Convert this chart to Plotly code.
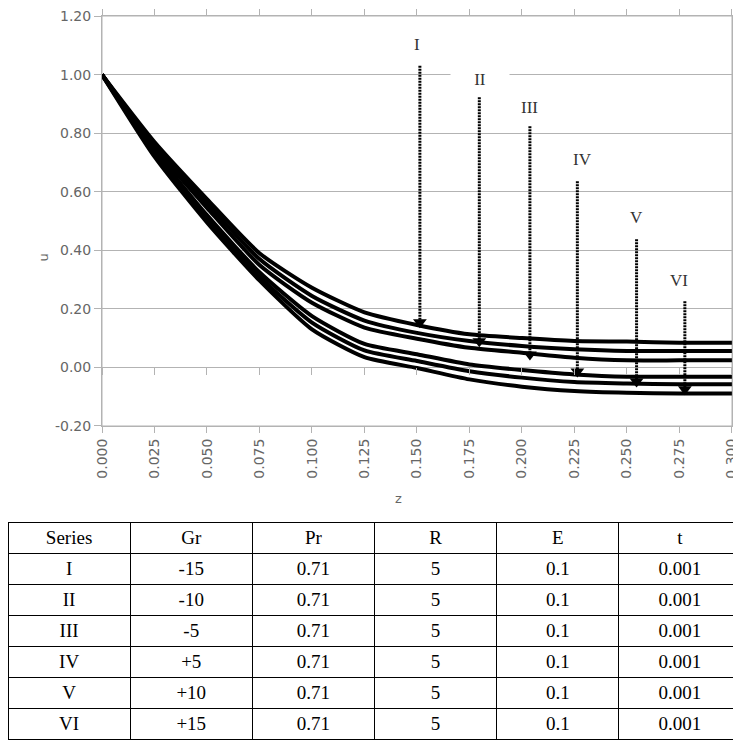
import plotly.graph_objects as go

# ---------------- data ----------------
z = [0, 0.025, 0.05, 0.075, 0.1, 0.125, 0.15, 0.175, 0.2, 0.225, 0.25, 0.275, 0.3]
u_I = [1.0, 0.770, 0.575, 0.390, 0.272, 0.188, 0.145, 0.113, 0.100, 0.090, 0.088, 0.084, 0.084]
u_II = [1.0, 0.760, 0.560, 0.370, 0.244, 0.160, 0.118, 0.090, 0.073, 0.062, 0.056, 0.056, 0.056]
u_III = [1.0, 0.750, 0.545, 0.350, 0.221, 0.136, 0.098, 0.067, 0.050, 0.033, 0.024, 0.024, 0.024]
u_IV = [1.0, 0.740, 0.520, 0.325, 0.175, 0.080, 0.045, 0.010, -0.009, -0.024, -0.032, -0.032, -0.032]
u_V = [1.0, 0.730, 0.507, 0.310, 0.153, 0.058, 0.022, -0.013, -0.035, -0.050, -0.055, -0.058, -0.058]
u_VI = [1.0, 0.720, 0.495, 0.297, 0.130, 0.035, -0.002, -0.041, -0.066, -0.081, -0.087, -0.089, -0.089]

series_names = ["I", "II", "III", "IV", "V", "VI"]
arrow_z = [0.1514, 0.1797, 0.2038, 0.2264, 0.2546, 0.2776]
arrow_top = [1.03, 0.923, 0.824, 0.636, 0.438, 0.226]
arrow_head = [0.154, 0.089, 0.044, -0.014, -0.048, -0.075]
label_z = [0.150, 0.180, 0.2038, 0.229, 0.2548, 0.275]
label_u = [1.104, 0.985, 0.889, 0.711, 0.513, 0.297]

x_tickvals = [0, 0.025, 0.05, 0.075, 0.1, 0.125, 0.15, 0.175, 0.2, 0.225, 0.25, 0.275, 0.3]
x_ticktext = ["0.000", "0.025", "0.050", "0.075", "0.100", "0.125", "0.150",
              "0.175", "0.200", "0.225", "0.250", "0.275", "0.300"]
y_tickvals = [-0.2, 0.0, 0.2, 0.4, 0.6, 0.8, 1.0, 1.2]
y_ticktext = ["-0.20", "0.00", "0.20", "0.40", "0.60", "0.80", "1.00", "1.20"]

table_header = ["Series", "Gr", "Pr", "R", "E", "t"]
col_series = ["I", "II", "III", "IV", "V", "VI"]
col_gr = ["-15", "-10", "-5", "+5", "+10", "+15"]
col_pr = ["0.71"] * 6
col_r = ["5"] * 6
col_e = ["0.1"] * 6
col_t = ["0.001"] * 6

# ---------------- figure ----------------
OFF = 8                      # page body margin
W, H = 741 - OFF, 740 - OFF
GRID = "#b3b3b3"
TXT = "#666666"
X_RANGE = [0, 0.30005]
Y_RANGE = [-0.2002, 1.2002]


def px(xp):
    return (xp - OFF) / W


def py(yp):
    return 1 - (yp - OFF) / H


fig = go.Figure()

for u in [u_I, u_II, u_III, u_IV, u_V, u_VI]:
    fig.add_trace(go.Scatter(x=z, y=u, mode="lines",
                             line=dict(color="black", width=4, shape="spline", smoothing=0.6),
                             showlegend=False, hoverinfo="skip"))

for az, at, ah in zip(arrow_z, arrow_top, arrow_head):
    fig.add_trace(go.Scatter(x=[az, az], y=[at, ah], mode="lines",
                             line=dict(color="black", width=3, dash="2px,1px"),
                             showlegend=False, hoverinfo="skip", xaxis="x2"))
fig.add_trace(go.Scatter(x=arrow_z, y=arrow_head, mode="markers",
                         marker=dict(symbol="triangle-down", size=12, color="black"),
                         showlegend=False, hoverinfo="skip"))

for name, lz, lu in zip(series_names, label_z, label_u):
    extra = dict(bgcolor="white", width=56) if name == "II" else {}
    fig.add_annotation(x=lz, y=lu, text=name, showarrow=False,
                       font=dict(family="Liberation Serif", size=17, color="#333333"),
                       **extra)

xd = [px(102), px(732)]
yd = [py(426), py(16)]
ypos0 = yd[0] + ((0 - Y_RANGE[0]) / (Y_RANGE[1] - Y_RANGE[0])) * (yd[1] - yd[0])

fig.update_layout(
    width=W, height=H, margin=dict(l=0, r=0, t=0, b=0),
    paper_bgcolor="white", plot_bgcolor="white", showlegend=False,
    xaxis=dict(domain=xd, range=X_RANGE, tickvals=x_tickvals, ticktext=x_ticktext,
               tickangle=-90, ticks="outside", ticklen=6, tickcolor=GRID,
               showgrid=False, zeroline=False, showline=True, linecolor=GRID,
               mirror="all", ticklabeloverflow="allow",
               tickfont=dict(family="DejaVu Sans", size=14, color=TXT),
               automargin=False),
    xaxis2=dict(overlaying="x", anchor="free", position=ypos0, range=X_RANGE,
                tickvals=x_tickvals, ticks="outside", ticklen=7, tickcolor=GRID,
                showticklabels=False, showgrid=False, zeroline=False, showline=False,
                side="bottom"),
    yaxis=dict(domain=yd, range=Y_RANGE, tickvals=y_tickvals, ticktext=y_ticktext,
               ticks="outside", ticklen=7, tickcolor=GRID, showgrid=True,
               gridcolor=GRID, zeroline=False, showline=True, linecolor=GRID,
               mirror="all", ticklabeloverflow="allow",
               tickfont=dict(family="DejaVu Sans", size=14, color=TXT),
               automargin=False),
)

# plot-area frame
fig.add_shape(type="rect", xref="x domain", yref="y domain", x0=0, x1=1, y0=0, y1=1,
              line=dict(color=GRID, width=1), layer="below")

fig.add_annotation(x=px(33), y=py(258), xref="paper", yref="paper", text="u",
                   textangle=-90, showarrow=False,
                   font=dict(family="DejaVu Sans", size=13, color=TXT))
fig.add_annotation(x=px(398), y=py(508), xref="paper", yref="paper", text="z",
                   showarrow=False, font=dict(family="DejaVu Sans", size=13, color=TXT))

fig.add_trace(go.Table(
    domain=dict(x=[px(8), 1], y=[0, py(522)]),
    columnwidth=[1] * 6,
    header=dict(values=table_header, height=31, align="center",
                fill_color="white", line=dict(color="black", width=1),
                font=dict(family="Liberation Serif", size=19, color="black")),
    cells=dict(values=[col_series, col_gr, col_pr, col_r, col_e, col_t], height=31,
               align="center", fill_color="white", line=dict(color="black", width=1),
               font=dict(family="Liberation Serif", size=19, color="black")),
))

fig.write_html("out.html")
